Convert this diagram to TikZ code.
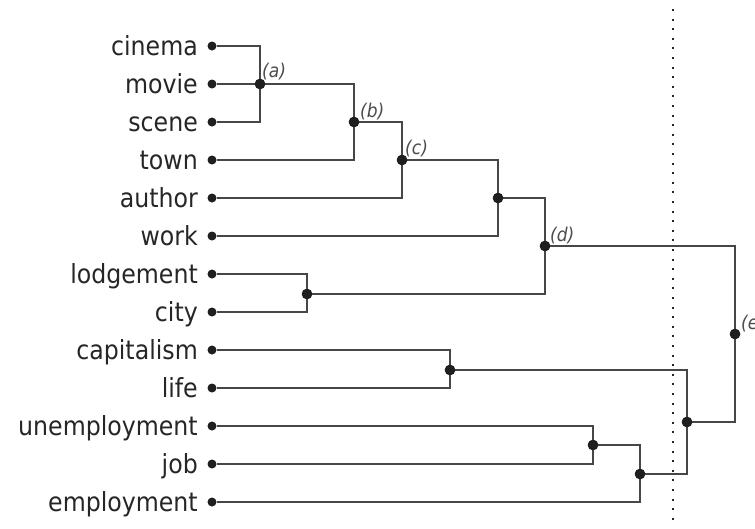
\documentclass[tikz,border=0pt]{standalone}
\usepackage{fontspec}
\setmainfont{DejaVu Sans Condensed}
\begin{document}
\begin{tikzpicture}[x=1pt,y=-1pt,
  conn/.style={draw=black!72,line width=1.1pt},
  leaf/.style={circle,fill=black!88,inner sep=0pt,minimum size=9pt},
  junc/.style={circle,fill=black!88,inner sep=0pt,minimum size=10.5pt},
  word/.style={anchor=base east,inner sep=0pt,font=\fontsize{26.3}{30}\selectfont,text=black!85},
  tag/.style={anchor=south west,inner sep=0pt,font=\fontsize{19}{21}\selectfont\itshape,text=black!70},
  sep/.style={draw=black!85,line width=2pt,dash pattern=on 2pt off 7.6pt}]
\useasboundingbox (0,0) rectangle (755,528);
% leaves
\foreach \w/\n [count=\i from 0] in {cinema/cinema,movie/movie,scene/scene,town/town,author/author,work/work,lodgement/lodgement,city/city,capitalism/capitalism,life/life,unemployment/unemployment,job/job,employment/employment}{
  \node[leaf] (\n) at (212,{46+38*\i}) {};
  \node[word] (t-\n) at (198,{55+38*\i}) {\w};
}
% junctions
\node[junc] (a) at (260,84) {};
\node[junc] (b) at (354,122) {};
\node[junc] (c) at (402,160) {};
\node[junc] (n4) at (498,198) {};
\node[junc] (p1) at (307,294) {};
\node[junc] (d) at (545,246) {};
\node[junc] (q1) at (450,370) {};
\node[junc] (r1) at (593,445) {};
\node[junc] (r2) at (640,474) {};
\node[junc] (q2) at (687,422) {};
\node[junc] (e) at (735,334) {};
% dotted separator
\coordinate (s1) at (673,9);
\coordinate (s2) at (673,522);
\draw[sep] (s1) -- (s2);
% connectors
\draw[conn] (cinema) -| (a.center) |- (scene);
\draw[conn] (movie) -- (a);
\draw[conn] (a) -| (b.center) |- (town);
\draw[conn] (b) -| (c.center) |- (author);
\draw[conn] (c) -| (n4.center) |- (work);
\draw[conn] (lodgement) -| (p1.center) |- (city);
\draw[conn] (n4) -| (d.center) |- (p1);
\draw[conn] (capitalism) -| (q1.center) |- (life);
\draw[conn] (unemployment) -| (r1.center) |- (job);
\draw[conn] (r1) -| (r2.center) |- (employment);
\draw[conn] (q1) -| (q2.center) |- (r2);
\draw[conn] (d) -| (e.center) |- (q2);
% redraw junction dots on top
\foreach \j in {a,b,c,n4,p1,d,q1,r1,r2,q2,e}{\fill[black!88] (\j) circle (5.25pt);}
% tags
\node[tag] (ta) at (262,80) {(a)};
\node[tag] (tb) at (360,120) {(b)};
\node[tag] (tc) at (405,157) {(c)};
\node[tag] (td) at (550,244) {(d)};
\node[tag] (te) at (741,332) {(e)};
\end{tikzpicture}
\end{document}
